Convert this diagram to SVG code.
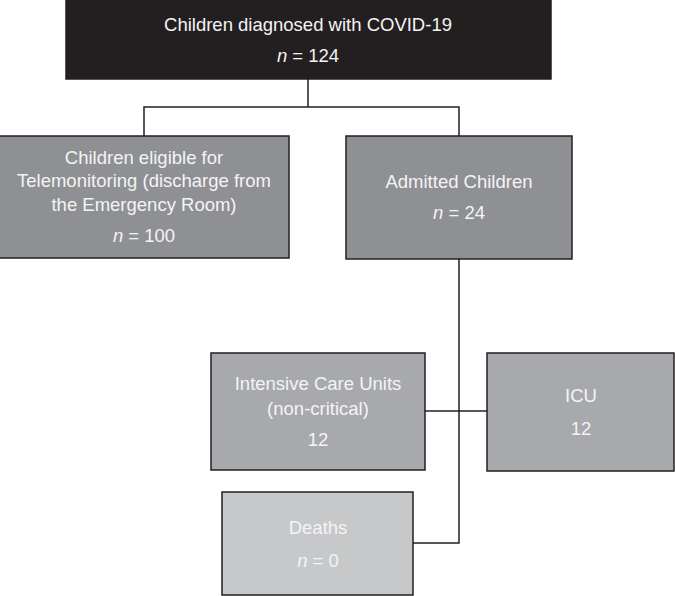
<svg xmlns="http://www.w3.org/2000/svg" width="675" height="596" viewBox="0 0 675 596">
<style>
  .box { stroke: #231f20; stroke-width: 1.5; }
  .dark { fill: #231f20; }
  .mid { fill: #8f9093; }
  .light { fill: #a8a9ac; }
  .pale { fill: #c7c8ca; }
  text { font-family: "Liberation Sans", Arial, sans-serif; font-size: 18.5px; fill: #f4f4f4; text-anchor: middle; }
  .conn { fill: none; stroke: #231f20; stroke-width: 1.5; }
</style>
<rect width="675" height="596" fill="#ffffff"/>
<g id="connectors">
  <polyline class="conn" points="308,79 308,107"/>
  <polyline class="conn" points="144,136 144,107 459,107 459,136"/>
  <polyline class="conn" points="459,259 459,543 413,543"/>
  <polyline class="conn" points="425,411 487,411"/>
</g>
<g id="n_total">
  <rect class="box dark" x="66" y="-1" width="485" height="80"/>
  <text x="308" y="31">Children diagnosed with COVID-19</text>
  <text x="308" y="62"><tspan font-style="italic">n</tspan> = 124</text>
</g>
<g id="n_tele">
  <rect class="box mid" x="-1" y="136" width="290" height="122"/>
  <text x="144" y="164">Children eligible for</text>
  <text x="144" y="187">Telemonitoring (discharge from</text>
  <text x="144" y="211">the Emergency Room)</text>
  <text x="144" y="242"><tspan font-style="italic">n</tspan> = 100</text>
</g>
<g id="n_admitted">
  <rect class="box mid" x="346" y="136" width="226" height="123"/>
  <text x="459" y="188">Admitted Children</text>
  <text x="459" y="219"><tspan font-style="italic">n</tspan> = 24</text>
</g>
<g id="n_icu_noncrit">
  <rect class="box light" x="211" y="353" width="214" height="117"/>
  <text x="318" y="390">Intensive Care Units</text>
  <text x="318" y="415">(non-critical)</text>
  <text x="318" y="446">12</text>
</g>
<g id="n_icu">
  <rect class="box light" x="487" y="353" width="187" height="118"/>
  <text x="581" y="402">ICU</text>
  <text x="581" y="435">12</text>
</g>
<g id="n_deaths">
  <rect class="box pale" x="222" y="492" width="191" height="103"/>
  <text x="318" y="534">Deaths</text>
  <text x="318" y="567"><tspan font-style="italic">n</tspan> = 0</text>
</g>
</svg>
